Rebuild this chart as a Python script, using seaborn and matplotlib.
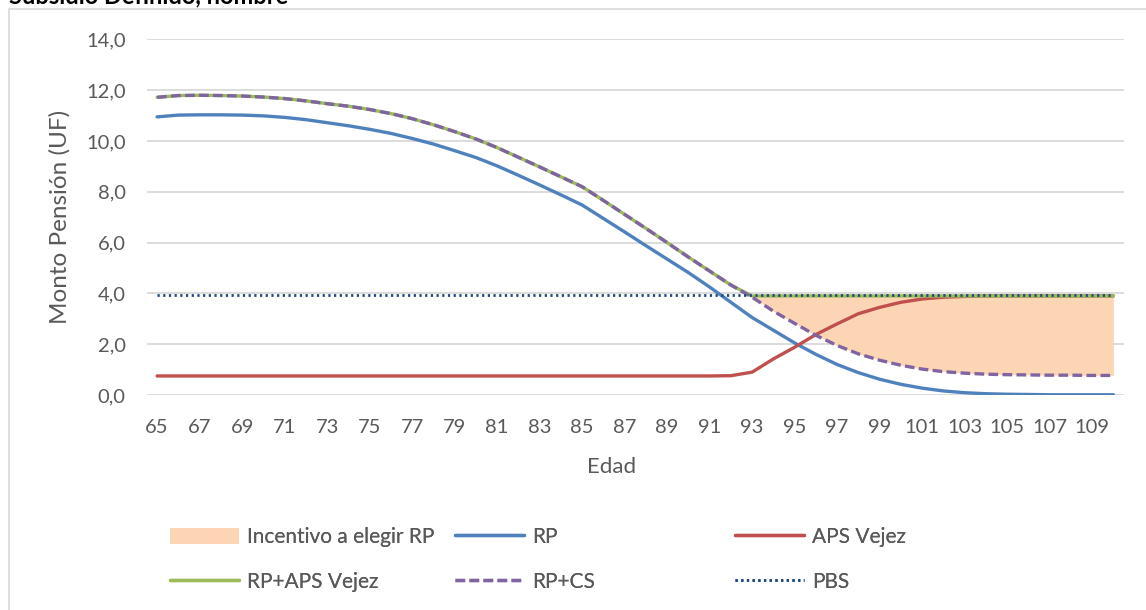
import numpy as np
import pandas as pd
import matplotlib
matplotlib.use("Agg")
import matplotlib.pyplot as plt
from matplotlib.lines import Line2D
import seaborn as sns

# ── Data ──────────────────────────────────────
ages = list(range(65, 111))

rp = [10.95, 11.02, 11.03, 11.03, 11.02, 10.99, 10.93, 10.84, 10.72, 10.60,
      10.46, 10.30, 10.10, 9.88, 9.62, 9.35, 9.02, 8.65, 8.27, 7.88,
      7.48, 6.95, 6.42, 5.88, 5.35, 4.82, 4.25, 3.65, 3.05, 2.55,
      2.05, 1.60, 1.20, 0.88, 0.62, 0.42, 0.27, 0.16, 0.09, 0.05,
      0.03, 0.02, 0.01, 0.01, 0.01, 0.01]

aps_vejez = [0.75] * 27 + [0.76, 0.90, 1.42, 1.88, 2.38, 2.80, 3.20, 3.45, 3.65,
                           3.78, 3.85, 3.88, 3.90, 3.90, 3.90, 3.90, 3.90, 3.90, 3.90]

rp_cs = [11.72, 11.79, 11.80, 11.79, 11.77, 11.73, 11.67, 11.58, 11.47, 11.37,
         11.24, 11.08, 10.88, 10.64, 10.37, 10.08, 9.74, 9.36, 8.98, 8.59,
         8.20, 7.66, 7.11, 6.56, 6.00, 5.43, 4.88, 4.33, 3.85, 3.30,
         2.82, 2.35, 1.95, 1.62, 1.37, 1.17, 1.02, 0.92, 0.86, 0.82,
         0.80, 0.79, 0.78, 0.78, 0.77, 0.77]

rp_aps = rp_cs[:28] + [3.90] * 18

pbs = [3.92] * 46

incentive_start = 93

COLORS = {
    "fill": "#FCD5B5",
    "rp": "#4F81BD",
    "aps": "#C0504D",
    "rp_aps": "#9BBB59",
    "rp_cs": "#8064A2",
    "pbs": "#1F497D",
}
TXT = "#595959"

df = pd.DataFrame({"edad": ages, "rp": rp, "aps": aps_vejez,
                   "rp_aps": rp_aps, "rp_cs": rp_cs, "pbs": pbs})

# ── Figure ────────────────────────────────────
sns.set_theme(style="white")
plt.rcParams["font.family"] = ["Lato", "DejaVu Sans"]

fig = plt.figure(figsize=(11.46, 6.10), dpi=100, facecolor="white")
ax = fig.add_axes([146.5 / 1146, 1 - 395 / 610, 977.5 / 1146, 355.6 / 610])

inc = df[df["edad"] >= incentive_start]
ax.fill_between(inc["edad"], inc["rp_cs"], inc["rp_aps"], color=COLORS["fill"],
                linewidth=0, label="Incentivo a elegir RP", zorder=1)

sns.lineplot(data=df, x="edad", y="rp", ax=ax, color=COLORS["rp"], lw=2.4,
             label="RP", zorder=3)
sns.lineplot(data=df, x="edad", y="aps", ax=ax, color=COLORS["aps"], lw=2.4,
             label="APS Vejez", zorder=3)
sns.lineplot(data=df, x="edad", y="rp_aps", ax=ax, color=COLORS["rp_aps"], lw=2.4,
             label="RP+APS Vejez", zorder=4)
sns.lineplot(data=df, x="edad", y="rp_cs", ax=ax, color=COLORS["rp_cs"], lw=2.4,
             linestyle=(0, (2.9, 1.3)), label="RP+CS", zorder=5)
sns.lineplot(data=df, x="edad", y="pbs", ax=ax, color=COLORS["pbs"], lw=2.0,
             linestyle=(0, (0.8, 1.25)), label="PBS", zorder=6)

ax.set_xlim(64.5, 110.5)
ax.set_ylim(0, 14)
yt = np.arange(0, 15, 2)
ax.set_yticks(yt)
ax.set_yticklabels([f"{v:.1f}".replace(".", ",") for v in yt])
ax.set_xticks(ages[::2])
ax.set_xticklabels([str(a) for a in ages[::2]])
ax.tick_params(axis="both", length=0, labelsize=14.5, labelcolor=TXT)
ax.tick_params(axis="y", pad=15)
ax.tick_params(axis="x", pad=17)
ax.yaxis.grid(True, color="#D9D9D9", lw=1.3)
ax.xaxis.grid(False)
for spine in ax.spines.values():
    spine.set_visible(False)

ax.set_xlabel("Edad", fontsize=16, color=TXT)
ax.set_ylabel("Monto Pensión (UF)", fontsize=17.5, color=TXT)
ax.xaxis.set_label_coords((612 - 146.5) / 977.5, (395 - 467) / 355.6)
ax.xaxis.label.set_va("center")
ax.yaxis.set_label_coords((60 - 146.5) / 977.5, 0.5)
ax.yaxis.label.set_va("center")

# ── Legend: three columns placed like the original ──
handles, labels = ax.get_legend_handles_labels()
hmap = dict(zip(labels, handles))
if ax.get_legend() is not None:
    ax.get_legend().remove()
cols = [(170, ["Incentivo a elegir RP", "RP+APS Vejez"]),
        (455, ["RP", "RP+CS"]),
        (735, ["APS Vejez", "PBS"])]
for x0, labs in cols:
    leg = fig.legend([hmap[l] for l in labs], labs, loc="upper left",
                     bbox_to_anchor=(x0 / 1146, 1 - 527 / 610),
                     frameon=False, fontsize=15, labelcolor=TXT,
                     handlelength=3.3, handletextpad=0.4, labelspacing=1.2,
                     borderpad=0, borderaxespad=0, handleheight=0.8)
    fig.add_artist(leg)

# ── Outer border + cut-off title ──────────────
fig.add_artist(Line2D([9 / 1146, 9 / 1146], [0, 1 - 9 / 610], color="#D9D9D9", lw=1.2))
fig.add_artist(Line2D([9 / 1146, 1], [1 - 9 / 610, 1 - 9 / 610], color="#D9D9D9", lw=1.2))
fig.text(9 / 1146, 1 - 3.5 / 610, "Subsidio Definido, hombre", fontsize=17,
         fontweight="bold", color="#000000", ha="left", va="baseline")

fig.savefig("out.png", dpi=100, facecolor="white")
